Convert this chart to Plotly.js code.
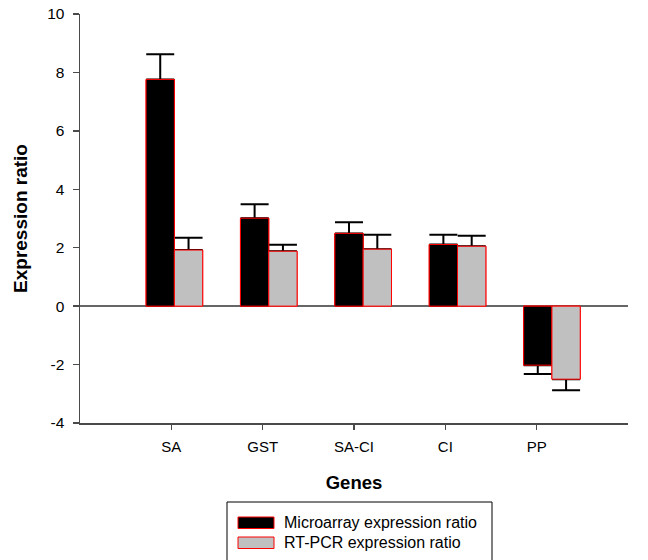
<!DOCTYPE html>
<html>
<head>
<meta charset="utf-8">
<script src="https://cdn.plot.ly/plotly-3.0.1.min.js"></script>
<style>html,body{margin:0;padding:0;background:#fff;}#chart{width:648px;height:560px;}</style>
</head>
<body>
<div id="chart"></div>
<script>
// ---- data ----
const genes = ['SA', 'GST', 'SA-CI', 'CI', 'PP'];
const microarray = [7.76, 3.01, 2.49, 2.11, -2.02];
const microarrayErr = [0.86, 0.48, 0.38, 0.33, 0.30];
const rtpcr = [1.92, 1.88, 1.95, 2.05, -2.50];
const rtpcrErr = [0.42, 0.22, 0.49, 0.36, 0.38];
const seriesNames = ['Microarray expression ratio', 'RT-PCR expression ratio'];
const yTicks = [-4, -2, 0, 2, 4, 6, 8, 10];
const yTickLabels = ['-4', '-2', '0', '2', '4', '6', '8', '10'];

// ---- layout constants ----
const W = 648, H = 560;
const M = {l: 80, r: 20, t: 14, b: 137};
const PW = W - M.l - M.r, PH = H - M.t - M.b;
const px = x => (x - M.l) / PW;
const py = y => (H - M.b - y) / PH;
const FONT = 'Liberation Sans, Arial, Helvetica, sans-serif';
const fills = ['#000000', '#c0c0c0'];
const edge = '#ff0000';
const axisColor = '#4a4a4a';

function upErr(v, e) { return v.map((d, i) => d >= 0 ? e[i] : 0); }
function downErr(v, e) { return v.map((d, i) => d < 0 ? e[i] : 0); }

function barTrace(vals, errs, k, withErr) {
  const t = {
    type: 'bar', x: genes, y: vals, name: seriesNames[k],
    offsetgroup: 'g' + k, showlegend: false,
    marker: {color: fills[k], line: {color: edge, width: 1}},
    hoverinfo: 'skip'
  };
  if (withErr) {
    t.error_y = {type: 'data', symmetric: false, array: upErr(vals, errs),
      arrayminus: downErr(vals, errs), color: '#000', thickness: 2, width: 14};
  }
  return t;
}

const data = [
  barTrace(microarray, microarrayErr, 0, true),
  barTrace(rtpcr, rtpcrErr, 1, true),
  barTrace(microarray, microarrayErr, 0, false),
  barTrace(rtpcr, rtpcrErr, 1, false),
  {type: 'scatter', x: [], y: [], xaxis: 'x2', yaxis: 'y', showlegend: false, hoverinfo: 'skip'}
];

const shapes = [
  {type: 'rect', xref: 'paper', yref: 'paper', x0: px(227), x1: px(492), y0: py(563), y1: py(502),
   line: {color: '#000', width: 1}, fillcolor: 'rgba(0,0,0,0)'},
  {type: 'rect', xref: 'paper', yref: 'paper', x0: px(238), x1: px(274), y0: py(528.5), y1: py(517),
   line: {color: edge, width: 1}, fillcolor: fills[0]},
  {type: 'rect', xref: 'paper', yref: 'paper', x0: px(238), x1: px(274), y0: py(548.5), y1: py(537),
   line: {color: edge, width: 1}, fillcolor: fills[1]}
];
const annotations = [
  {xref: 'paper', yref: 'paper', x: px(282), y: py(522.5), text: seriesNames[0], showarrow: false,
   xanchor: 'left', yanchor: 'middle', font: {family: FONT, size: 16, color: '#000'}},
  {xref: 'paper', yref: 'paper', x: px(282), y: py(542.5), text: seriesNames[1], showarrow: false,
   xanchor: 'left', yanchor: 'middle', font: {family: FONT, size: 16, color: '#000'}}
];

const layout = {
  width: W, height: H, margin: M,
  paper_bgcolor: '#fff', plot_bgcolor: '#fff',
  font: {family: FONT, size: 15, color: '#000'},
  barmode: 'group', bargap: 0.4, bargroupgap: 0,
  showlegend: false,
  xaxis: {type: 'category', range: [-1, 4.806], showticklabels: false, ticks: '',
    showline: true, linecolor: axisColor, linewidth: 1.5, showgrid: false, zeroline: false, fixedrange: true},
  xaxis2: {overlaying: 'x', anchor: 'y', side: 'bottom', type: 'linear', range: [-1, 5],
    tickmode: 'array', tickvals: genes.map((g, i) => i), ticktext: genes,
    ticks: 'outside', ticklen: 6, tickwidth: 1.5, tickcolor: axisColor, ticklabelstandoff: 4,
    showline: false, showgrid: false, zeroline: false,
    tickfont: {family: FONT, size: 15, color: '#000'},
    title: {text: '<b>Genes</b>', font: {family: FONT, size: 18.5, color: '#000'}, standoff: 22}},
  yaxis: {range: [-4, 10], tickmode: 'array', tickvals: yTicks, ticktext: yTickLabels,
    ticks: 'outside', ticklen: 6, ticklabelstandoff: 5,
    tickwidth: 1.5, tickcolor: axisColor, showline: true, linecolor: axisColor, linewidth: 1.5,
    showgrid: false, zeroline: true, zerolinecolor: '#666', zerolinewidth: 1.5,
    tickfont: {family: FONT, size: 15.5, color: '#000'},
    title: {text: '<b>Expression ratio</b>', font: {family: FONT, size: 19, color: '#000'}, standoff: 14}},
  shapes: shapes,
  annotations: annotations
};

Plotly.newPlot('chart', data, layout, {staticPlot: true, displayModeBar: false});
</script>
</body>
</html>
